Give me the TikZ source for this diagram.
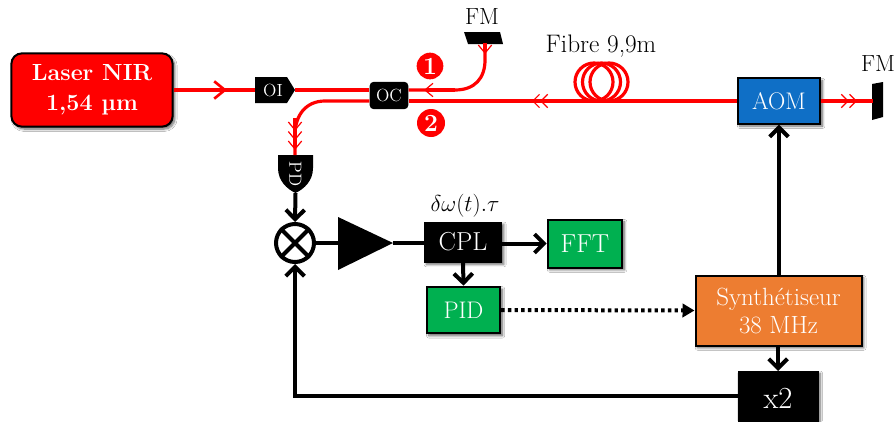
\documentclass[tikz,border=0pt]{standalone}
\usetikzlibrary{arrows.meta,shadows,shadows.blur,calc}
\definecolor{gr}{HTML}{00B050}
\definecolor{orng}{HTML}{ED7D31}
\definecolor{blu}{HTML}{0F6FC6}
\tikzset{
  shd/.style={blur shadow={shadow xshift=1.6pt,shadow yshift=-1.8pt,shadow blur steps=8,shadow opacity=60,shadow blur radius=1.8pt}},
  boxn/.style={draw=black,line width=1.5pt,text=white,inner sep=0pt,align=center,font=\fontsize{18.5}{21}\selectfont,shd},
  smalln/.style={text=white,inner sep=0pt,font=\fontsize{13.2}{15}\selectfont},
  lbl/.style={text=black,inner sep=0pt,font=\fontsize{17.5}{19}\selectfont},
  num/.style={circle,fill=red,text=white,inner sep=0pt,minimum size=20pt,font=\bfseries\fontsize{18.5}{20}\selectfont},
  rl/.style={draw=red,line width=2.4pt},
  rt1/.style={rl,-{Straight Barb[length=8pt,width=13pt,line width=2pt]}},
  rt1s/.style={draw=red,line width=2.4pt,-{Straight Barb[length=6pt,width=10pt,line width=.9pt]}},
  rt2/.style={draw=red,line width=2.4pt,-{Straight Barb[length=5pt,width=10pt,line width=.9pt]Straight Barb[length=5pt,width=10pt,line width=.9pt]}},
  rt3/.style={draw=red,line width=2.4pt,-{Straight Barb[length=6pt,width=10pt,line width=.9pt]Straight Barb[length=6pt,width=10pt,line width=.9pt]Straight Barb[length=6pt,width=10pt,line width=.9pt]}},
  bl/.style={draw=black,line width=3pt},
  bt/.style={bl,-{Straight Barb[length=7pt,width=14pt,line width=3pt]}},
}
\begin{document}
\begin{tikzpicture}[x=0.75pt,y=-0.75pt]
\clip (0,0) rectangle (895,421);
\fill[white] (0,0) rectangle (895,421);
% fibre coil
\foreach \c in {594,601.5,609} \draw[red,line width=2.4pt] (\c,82) circle[radius=19];
% boxes
\node[boxn,fill=red,rounded corners=8pt,minimum width=121pt,minimum height=55pt,font=\bfseries\fontsize{17.5}{22.5}\selectfont] (laser) at (92,90) {Laser NIR\\1,54 µm};
\node[boxn,fill=blu,minimum width=62pt,minimum height=34pt,font=\fontsize{18}{21}\selectfont] (aom) at (779,101) {AOM};
\node[boxn,fill=black,draw=black,line width=0pt,minimum width=58pt,minimum height=30pt,font=\fontsize{19.5}{21}\selectfont] (cpl) at (463,242) {CPL};
\node[boxn,fill=gr,minimum width=56pt,minimum height=36pt,font=\fontsize{19.5}{21}\selectfont] (fft) at (585,243.5) {FFT};
\node[boxn,fill=gr,minimum width=55pt,minimum height=35pt,font=\fontsize{18}{21}\selectfont] (pid) at (463.5,310) {PID};
\node[boxn,fill=orng,minimum width=124.5pt,minimum height=52.5pt,font=\fontsize{18.7}{21}\selectfont] (syn) at (778.5,310.5) {Synthétiseur\\38 MHz};
\node[boxn,fill=black,line width=0pt,minimum width=60pt,minimum height=40.5pt,font=\fontsize{23}{25}\selectfont] (x2) at (778,398) {x2};
% small components
\fill (255,77) -- (287,77) -- (295,90) -- (287,103) -- (255,103) -- cycle;
\node[smalln,minimum width=30pt,minimum height=19pt] (oi) at (275,90) {\hspace{-3pt}OI};
\node[smalln,fill=black,rounded corners=3pt,minimum width=29pt,minimum height=20.5pt] (oc) at (389,95.5) {OC};
\fill (278,155) -- (313,155) -- (313,168) .. controls (313,181) and (304,189) .. (295.5,193) .. controls (287,189) and (278,181) .. (278,168) -- cycle;
\node[smalln,rotate=-90,minimum width=28pt,minimum height=26pt] (pd) at (295.5,174) {PD};
% mirrors
\fill (464,32) -- (500,32) -- (503,44) -- (468,44) -- cycle;
\fill (872,84) -- (883,82) -- (883,117) -- (872,120) -- cycle;
\coordinate (fm1) at (485,43);
\coordinate (fm2) at (873,101);
\node[lbl] (fm1l) at (482,17) {FM};
\node[lbl] (fm2l) at (878,64) {FM};
\node[lbl,font=\fontsize{19}{21}\selectfont] (fib) at (601,46) {Fibre 9,9m};
\node[num] (n1) at (430,66) {1};
\node[num,minimum size=21pt] (n2) at (431,123) {2};
% red beams
\coordinate (a1) at (227,90);
\draw[rl] (laser.east |- a1) -- (oi.west);
\draw[rt1] (laser.east |- a1) -- (a1);
\draw[rl] (295,90) -- (oc.west |- 0,90);
\coordinate (u1) at (455,90);
\coordinate (u2) at (485,60);
\coordinate (a2) at (424,90);
\coordinate (a3) at (485,54);
\draw[rl] (fm1) -- (u2) .. controls (485,78) and (475,90) .. (u1) -- (oc.east |- u1);
\draw[rt1s] (u1) -- (a2);
\draw[rt1s] (fm1) -- (a3);
\coordinate (l1) at (325,101);
\coordinate (l2) at (295,135);
\coordinate (a4) at (532,101);
\draw[rl] (aom.west |- a4) -- (oc.east |- a4);
\draw[rl] (oc.west |- a4) -- (l1) .. controls (306,101) and (295,115) .. (l2) -- (295,155);
\draw[rt2] (590,101) -- (a4);
\draw[rt3] (295,118) -- (295,150);
\coordinate (a5) at (857,101);
\draw[rl] (aom.east |- a5) -- (fm2);
\draw[rt2] (aom.east |- a5) -- (a5);
% mixer
\node[circle,draw=black,line width=3pt,minimum size=28.5pt,inner sep=0pt] (mix) at (295,243) {};
\draw[black,line width=3pt] (mix.45) -- (mix.225) (mix.135) -- (mix.315);
\fill (338,217) -- (393,243) -- (338,270) -- cycle;
\coordinate (amp) at (393,243);
\node[inner sep=0pt,font=\fontsize{18}{20}\selectfont] (tau) at (465,206) {$\delta\omega(t).\tau$};
% black connectors
\draw[bt] (295.5,193) -- (mix.north);
\draw[bl] (mix.east) -- (338,243);
\draw[bl] (amp) -- (cpl.west |- amp);
\draw[bt] (cpl.east |- fft.west) -- (fft.west);
\draw[bt] (cpl.south) -- (pid.north);
\draw[draw=black,line width=3pt,dash pattern=on 2.6pt off 2.4pt,-{Stealth[length=9pt,width=10pt,inset=0pt]}] (pid.east) -- (syn.west);
\draw[bt] (syn.north -| aom.south) -- (aom.south);
\draw[bt] (syn.south -| x2.north) -- (x2.north);
\draw[bl,-{Straight Barb[length=7pt,width=14pt,line width=3pt]}] (x2.west |- 0,396) -| (mix.south);
\end{tikzpicture}
\end{document}
